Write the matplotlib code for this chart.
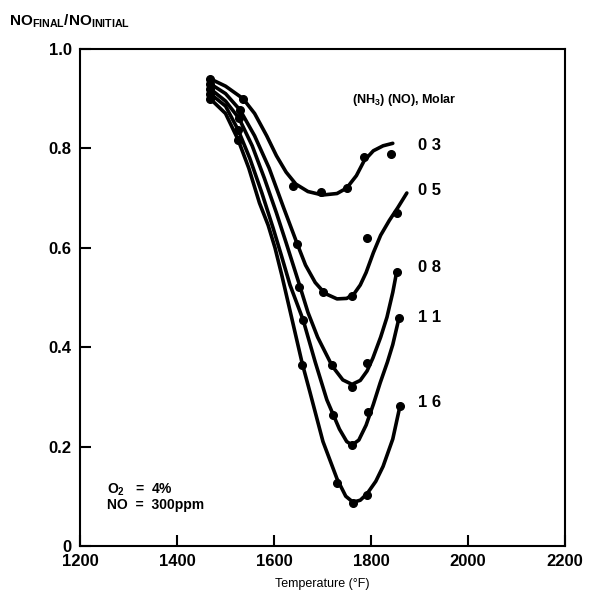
import matplotlib.pyplot as plt

plt.rcParams['font.family'] = 'Liberation Sans'
plt.rcParams['font.weight'] = 'bold'
plt.rcParams['mathtext.fontset'] = 'custom'
plt.rcParams['mathtext.rm'] = 'Liberation Sans:bold'
plt.rcParams['mathtext.it'] = 'Liberation Sans:bold'
plt.rcParams['mathtext.bf'] = 'Liberation Sans:bold'

# molar ratio [NH3]/[NO] for each curve
ratios = ['0.3', '0.5', '0.8', '1.1', '1.6']

# measured points (temperature F, NO final / NO initial)
pts_x = {
    '0.3': [1468, 1536, 1640, 1697, 1750, 1786, 1841],
    '0.5': [1468, 1530, 1648, 1701, 1761, 1792, 1853],
    '0.8': [1468, 1528, 1652, 1720, 1761, 1792, 1853],
    '1.1': [1468, 1526, 1660, 1722, 1761, 1794, 1858],
    '1.6': [1468, 1526, 1658, 1730, 1763, 1792, 1860],
}
pts_y = {
    '0.3': [0.94, 0.90, 0.724, 0.712, 0.72, 0.783, 0.789],
    '0.5': [0.93, 0.877, 0.608, 0.511, 0.503, 0.62, 0.67],
    '0.8': [0.92, 0.86, 0.521, 0.364, 0.32, 0.368, 0.551],
    '1.1': [0.91, 0.837, 0.455, 0.264, 0.203, 0.27, 0.459],
    '1.6': [0.90, 0.817, 0.364, 0.127, 0.087, 0.103, 0.282],
}

# faired curves
crv_x = {
    '0.3': [1468, 1500, 1536, 1560, 1585, 1605, 1625, 1645, 1670, 1700, 1730, 1750, 1770, 1786, 1805, 1825, 1845],
    '0.5': [1468, 1500, 1530, 1560, 1590, 1620, 1647, 1665, 1685, 1705, 1730, 1750, 1765, 1778, 1790, 1805, 1820, 1838, 1855, 1874],
    '0.8': [1468, 1500, 1528, 1555, 1580, 1605, 1625, 1651, 1670, 1690, 1720, 1742, 1761, 1778, 1792, 1804, 1820, 1833, 1845, 1853],
    '1.1': [1468, 1500, 1526, 1550, 1575, 1598, 1615, 1633, 1660, 1685, 1709, 1735, 1750, 1761, 1775, 1790, 1805, 1819, 1834, 1845, 1858],
    '1.6': [1468, 1500, 1526, 1548, 1570, 1588, 1602, 1616, 1635, 1658, 1674, 1701, 1730, 1748, 1763, 1778, 1792, 1810, 1825, 1845, 1860],
}
crv_y = {
    '0.3': [0.94, 0.925, 0.90, 0.87, 0.825, 0.785, 0.752, 0.728, 0.713, 0.706, 0.709, 0.72, 0.745, 0.775, 0.795, 0.805, 0.81],
    '0.5': [0.93, 0.91, 0.877, 0.825, 0.76, 0.68, 0.61, 0.565, 0.53, 0.508, 0.497, 0.498, 0.507, 0.525, 0.55, 0.59, 0.625, 0.655, 0.68, 0.71],
    '0.8': [0.92, 0.895, 0.86, 0.805, 0.74, 0.67, 0.61, 0.53, 0.47, 0.42, 0.362, 0.334, 0.325, 0.333, 0.352, 0.378, 0.42, 0.46, 0.51, 0.551],
    '1.1': [0.91, 0.885, 0.837, 0.78, 0.71, 0.64, 0.585, 0.525, 0.455, 0.37, 0.294, 0.235, 0.21, 0.203, 0.213, 0.243, 0.285, 0.328, 0.37, 0.405, 0.459],
    '1.6': [0.90, 0.87, 0.817, 0.76, 0.69, 0.645, 0.60, 0.545, 0.465, 0.368, 0.31, 0.21, 0.135, 0.10, 0.088, 0.092, 0.105, 0.13, 0.16, 0.215, 0.282],
}

lbl_y = [0.805, 0.716, 0.56, 0.459, 0.288]
xticks = [1200, 1400, 1600, 1800, 2000, 2200]
yticks = [0, 0.2, 0.4, 0.6, 0.8, 1.0]
ytick_labels = ['0', '0.2', '0.4', '0.6', '0.8', '1.0']

fig = plt.figure(figsize=(5.89, 5.96), dpi=100)
ax = fig.add_axes([0.136, 0.084, 0.823, 0.834])

for r, ly in zip(ratios, lbl_y):
    ax.plot(crv_x[r], crv_y[r], color='black', lw=2.6,
            solid_capstyle='round', solid_joinstyle='round')
    ax.plot(pts_x[r], pts_y[r], 'o', color='black', ms=5.5)
    ax.text(1897, ly, r.replace('.', ' '), fontsize=12, va='center', ha='left')

ax.text(1760, 0.897, '(NH$_3$) (NO), Molar', fontsize=9, va='center', ha='left')
ax.text(1256, 0.113, 'O$_2$   =  4%', fontsize=10, va='center')
ax.text(1256, 0.082, 'NO  =  300ppm', fontsize=10, va='center')

ax.set_xlim(1200, 2200)
ax.set_ylim(0, 1.0)
ax.set_xticks(xticks)
ax.set_yticks(yticks)
ax.set_yticklabels(ytick_labels)
ax.tick_params(direction='in', length=8, width=1.5, labelsize=12, pad=6)
for s in ax.spines.values():
    s.set_linewidth(1.5)

ax.set_xlabel('Temperature (°F)', fontsize=9, labelpad=6)
fig.text(0.015, 0.965, 'NO$_{\\rm FINAL}$/NO$_{\\rm INITIAL}$', fontsize=11, va='center')

fig.savefig('out.png', dpi=100)
